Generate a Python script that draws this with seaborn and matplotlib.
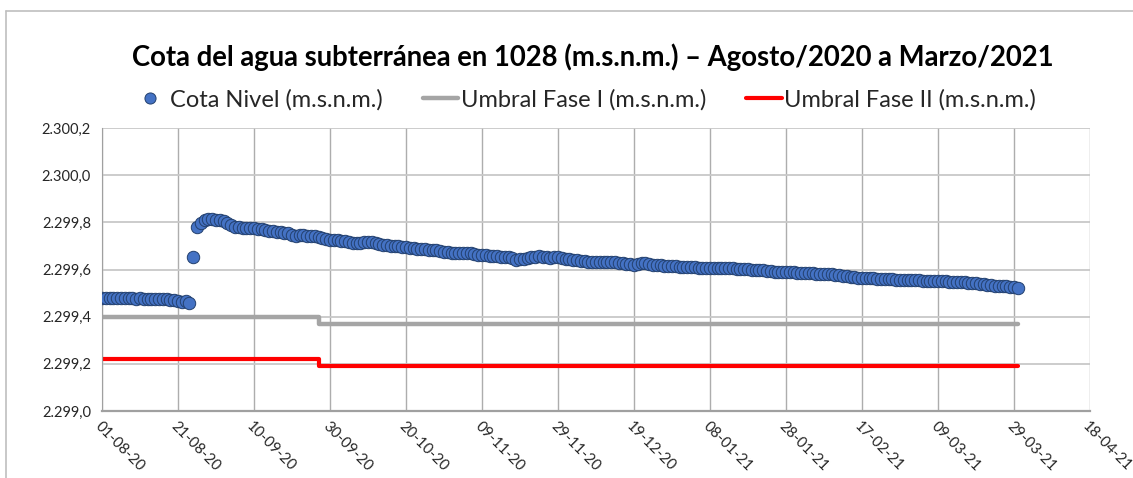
import pandas as pd
import numpy as np
import matplotlib
matplotlib.use("Agg")
import matplotlib.pyplot as plt
import matplotlib.dates as mdates
from matplotlib.ticker import FuncFormatter
from matplotlib.lines import Line2D
import seaborn as sns

# Cota diaria (m.s.n.m.) desde 01-08-2020
cota = [
    2299.478, 2299.479, 2299.478, 2299.479, 2299.480, 2299.479, 2299.478, 2299.479, 2299.478, 2299.477,
    2299.478, 2299.477, 2299.476, 2299.477, 2299.476, 2299.474, 2299.474, 2299.473, 2299.472, 2299.470,
    2299.466, 2299.463, 2299.465, 2299.459, 2299.651, 2299.779, 2299.797, 2299.808, 2299.813, 2299.814,
    2299.812, 2299.808, 2299.806, 2299.797, 2299.789, 2299.782, 2299.779, 2299.778, 2299.776, 2299.775,
    2299.774, 2299.771, 2299.770, 2299.768, 2299.765, 2299.763, 2299.760, 2299.757, 2299.756, 2299.753,
    2299.748, 2299.742, 2299.746, 2299.745, 2299.744, 2299.743, 2299.740, 2299.737, 2299.734, 2299.731,
    2299.727, 2299.726, 2299.724, 2299.722, 2299.720, 2299.718, 2299.714, 2299.713, 2299.713, 2299.715,
    2299.717, 2299.716, 2299.712, 2299.709, 2299.705, 2299.703, 2299.700, 2299.700, 2299.699, 2299.697,
    2299.695, 2299.693, 2299.691, 2299.689, 2299.688, 2299.686, 2299.684, 2299.683, 2299.681, 2299.678,
    2299.676, 2299.674, 2299.672, 2299.671, 2299.670, 2299.671, 2299.671, 2299.669, 2299.666, 2299.663,
    2299.661, 2299.660, 2299.659, 2299.657, 2299.656, 2299.655, 2299.654, 2299.652, 2299.650, 2299.641,
    2299.643, 2299.645, 2299.647, 2299.651, 2299.654, 2299.657, 2299.653, 2299.651, 2299.649, 2299.651,
    2299.652, 2299.648, 2299.646, 2299.644, 2299.641, 2299.639, 2299.636, 2299.635, 2299.633, 2299.633,
    2299.632, 2299.633, 2299.632, 2299.631, 2299.630, 2299.630, 2299.629, 2299.627, 2299.625, 2299.623,
    2299.621, 2299.625, 2299.629, 2299.627, 2299.624, 2299.621, 2299.619, 2299.618, 2299.616, 2299.615,
    2299.614, 2299.613, 2299.612, 2299.611, 2299.610, 2299.610, 2299.609, 2299.608, 2299.607, 2299.607,
    2299.607, 2299.608, 2299.607, 2299.606, 2299.607, 2299.606, 2299.605, 2299.604, 2299.603, 2299.602,
    2299.601, 2299.600, 2299.600, 2299.598, 2299.596, 2299.595, 2299.593, 2299.591, 2299.590, 2299.589,
    2299.589, 2299.590, 2299.588, 2299.587, 2299.586, 2299.586, 2299.585, 2299.584, 2299.583, 2299.582,
    2299.581, 2299.580, 2299.579, 2299.577, 2299.575, 2299.573, 2299.571, 2299.569, 2299.567, 2299.565,
    2299.564, 2299.563, 2299.563, 2299.562, 2299.561, 2299.560, 2299.560, 2299.559, 2299.558, 2299.557,
    2299.557, 2299.556, 2299.556, 2299.555, 2299.554, 2299.554, 2299.553, 2299.552, 2299.552, 2299.551,
    2299.551, 2299.550, 2299.550, 2299.549, 2299.548, 2299.547, 2299.546, 2299.545, 2299.544, 2299.543,
    2299.541, 2299.539, 2299.537, 2299.535, 2299.534, 2299.532, 2299.531, 2299.530, 2299.529, 2299.527,
    2299.524, 2299.521,
]
fechas = pd.date_range("2020-08-01", periods=len(cota), freq="D")

# Umbrales (escalón el 27-09-2020)
umbral_fechas = pd.to_datetime(["2020-08-01", "2020-09-27", "2021-03-30"])
umbral_fase1 = [2299.40, 2299.37, 2299.37]
umbral_fase2 = [2299.22, 2299.19, 2299.19]

x_ticks = pd.date_range("2020-08-01", "2021-04-18", freq="20D")
y_ticks = [2299.0, 2299.2, 2299.4, 2299.6, 2299.8, 2300.0, 2300.2]

df = pd.DataFrame({"fecha": fechas, "cota": cota})
df_u = pd.DataFrame({"fecha": umbral_fechas, "f1": umbral_fase1, "f2": umbral_fase2})

sns.set_style("white")
plt.rcParams["font.family"] = ["Lato", "DejaVu Sans"]

fig = plt.figure(figsize=(11.33, 4.78), dpi=100)
ax = fig.add_axes([102 / 1133, 1 - 411 / 478, 988 / 1133, 283 / 478])

sns.lineplot(data=df_u, x="fecha", y="f1", ax=ax, color="#a5a5a5", lw=3.2,
             drawstyle="steps-post", solid_capstyle="round", zorder=2)
sns.lineplot(data=df_u, x="fecha", y="f2", ax=ax, color="#ff0000", lw=3.0,
             drawstyle="steps-post", solid_capstyle="round", zorder=2)
sns.scatterplot(data=df, x="fecha", y="cota", ax=ax, s=80, color="#4472c4",
                edgecolor="#23406e", linewidth=0.7, zorder=3)

ax.set_xlim(x_ticks[0], x_ticks[-1])
ax.set_ylim(2299.0, 2300.2)
ax.set_xticks(x_ticks)
ax.set_yticks(y_ticks)
ax.xaxis.set_major_formatter(mdates.DateFormatter("%d-%m-%y"))
ax.yaxis.set_major_formatter(FuncFormatter(
    lambda v, p: f"{v:,.1f}".replace(",", "X").replace(".", ",").replace("X", ".")))

ax.grid(axis="y", color="#c8c8c8", lw=1.3)
ax.grid(axis="x", color="#adadad", lw=1.0)
ax.set_axisbelow(True)
for s in ["top", "right"]:
    ax.spines[s].set_visible(False)
ax.spines["left"].set_color("#a0a0a0")
ax.spines["bottom"].set_color("#a0a0a0")
ax.spines["bottom"].set_linewidth(1.6)
ax.tick_params(axis="both", direction="out", length=4, color="#a0a0a0",
               labelcolor="#262626")
ax.tick_params(axis="y", labelsize=10.5, pad=4)
ax.tick_params(axis="x", labelsize=10.8, pad=2)
for lbl in ax.get_xticklabels():
    lbl.set_rotation(-45)
    lbl.set_ha("left")
    lbl.set_va("top")
    lbl.set_rotation_mode("anchor")
ax.set_xlabel("")
ax.set_ylabel("")

handles = [
    Line2D([], [], marker="o", ls="", markersize=8, markerfacecolor="#4472c4",
           markeredgecolor="#23406e", markeredgewidth=0.7),
    Line2D([], [], color="#a5a5a5", lw=3.2),
    Line2D([], [], color="#ff0000", lw=3.0),
]
labels = ["Cota Nivel (m.s.n.m.)", "Umbral Fase I (m.s.n.m.)", "Umbral Fase II (m.s.n.m.)"]
ax.legend(handles, labels, loc="center", bbox_to_anchor=(0.488, 1.099), ncol=3,
          frameon=False, fontsize=17, handlelength=1.5, handletextpad=0.1,
          columnspacing=1.7, borderaxespad=0)

fig.text(593 / 1133, 1 - 57 / 478,
         "Cota del agua subterránea en 1028 (m.s.n.m.) – Agosto/2020 a Marzo/2021",
         ha="center", va="center", fontsize=19.8, fontweight="bold", color="black")

# marco del área del gráfico
fig.add_artist(Line2D([6 / 1133, 6 / 1133], [0, 1 - 11 / 478], color="#bfbfbf",
                      lw=1.2, transform=fig.transFigure))
fig.add_artist(Line2D([6 / 1133, 1], [1 - 11 / 478, 1 - 11 / 478], color="#bfbfbf",
                      lw=1.2, transform=fig.transFigure))

fig.savefig("out.png", dpi=100)
